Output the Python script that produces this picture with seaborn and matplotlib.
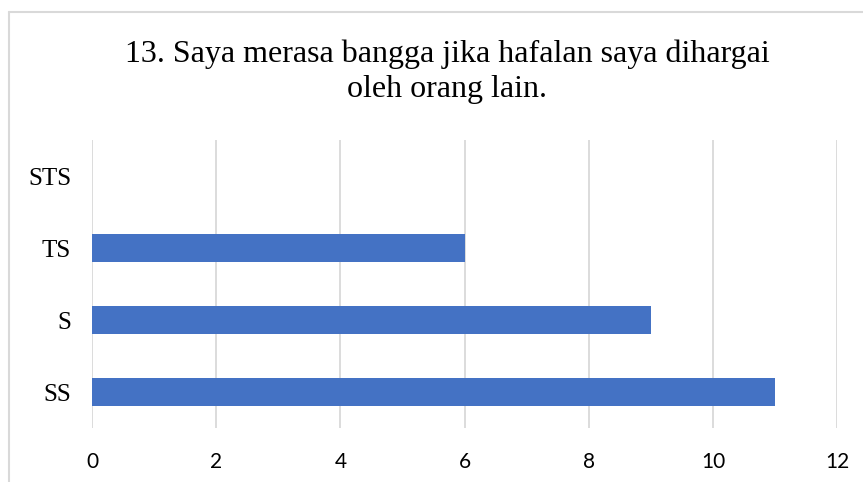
import matplotlib
matplotlib.use("Agg")
import matplotlib.pyplot as plt
from matplotlib.lines import Line2D
import seaborn as sns
import pandas as pd

# answers for statement 13
categories = ["STS", "TS", "S", "SS"]
counts = [0, 6, 9, 11]
title = "13. Saya merasa bangga jika hafalan saya dihargai\noleh orang lain."

df = pd.DataFrame({"jawaban": categories, "jumlah": counts})

sns.set_style("white")
fig = plt.figure(figsize=(8.63, 4.82), dpi=100)
ax = fig.add_axes([0.1066, 0.112, 0.970 - 0.1066, 0.7095 - 0.112])

sns.barplot(df, x="jumlah", y="jawaban", order=categories, color="#4472C4",
            saturation=1, width=0.4, linewidth=0, ax=ax)

ax.set_xlim(0, 12)
ax.set_xticks(range(0, 13, 2))
ax.set_xlabel("")
ax.set_ylabel("")
ax.grid(axis="x", color="#d9d9d9", linewidth=1.3)
ax.set_axisbelow(True)
for s in ax.spines.values():
    s.set_visible(False)
ax.tick_params(axis="both", length=0)
ax.tick_params(axis="y", pad=15)
ax.tick_params(axis="x", pad=17)
for lbl in ax.get_yticklabels():
    lbl.set_fontfamily("Liberation Serif")
    lbl.set_fontsize(18)
    lbl.set_color("#000000")
for lbl in ax.get_xticklabels():
    lbl.set_fontfamily("Lato")
    lbl.set_fontsize(15)
    lbl.set_color("#000000")

fig.text(0.518, 0.851, title, ha="center", va="center", fontsize=23,
         family="Liberation Serif", linespacing=1.3, color="#000000")

# chart area frame (cropped on right/bottom)
x0 = 8.5 / 863
y0 = 1 - 11.5 / 482
fig.add_artist(Line2D([x0, x0], [0, y0], transform=fig.transFigure,
                      color="#d9d9d9", linewidth=1.5))
fig.add_artist(Line2D([x0, 1], [y0, y0], transform=fig.transFigure,
                      color="#d9d9d9", linewidth=1.5))

fig.savefig("out.png", dpi=100)
